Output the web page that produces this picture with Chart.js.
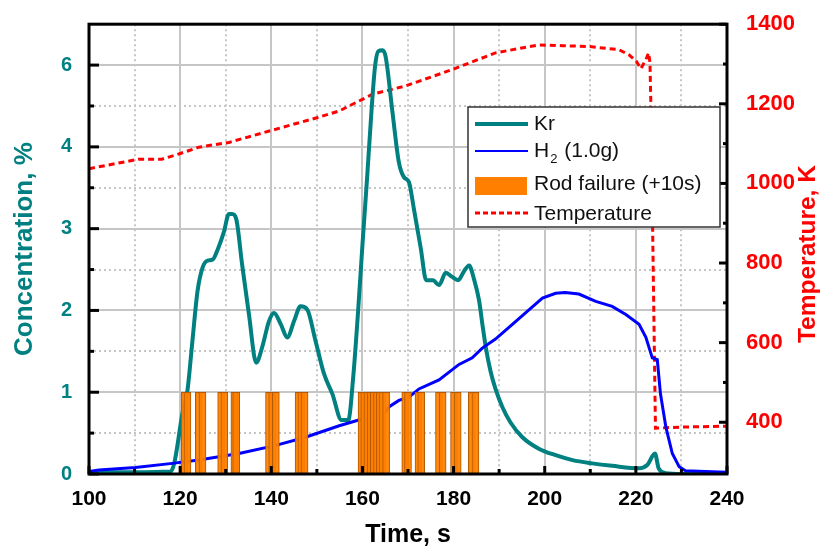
<!DOCTYPE html>
<html>
<head>
<meta charset="utf-8">
<title>Kr, H2 and temperature vs time</title>
<script src="https://cdn.jsdelivr.net/npm/chart.js@4.4.1/dist/chart.umd.min.js"></script>
<style>
  html, body { margin: 0; padding: 0; background: #fff; }
  #wrap { width: 827px; height: 550px; }
</style>
</head>
<body>
<div id="wrap"><canvas id="chart" width="827" height="550"></canvas></div>
<script>
(function () {
  "use strict";

  // --- data ---------------------------------------------------------------
  var krTime = [100, 110, 117.9, 118.7, 120.5, 121.6, 122.7, 123.8, 124.9, 126.0,
    127.1, 128.2, 129.6, 130.7, 131.4, 132.3, 133.6, 135.1, 136.7, 138.0,
    139.5, 140.6, 142.1, 143.5, 145.0, 146.4, 147.9, 149.7, 151.6, 153.4,
    155.4, 156.9, 158.0, 159.0, 160.0, 161.0, 162.0, 162.8, 163.5, 164.4,
    165.1, 166.6, 168.0, 169.1, 170.2, 171.3, 172.8, 174.0, 175.5, 176.8,
    178.3, 179.7, 181.0, 182.3, 183.4, 184.5, 185.6, 186.4, 187.1, 188.1,
    189.2, 190.7, 192.5, 195.1, 198.7, 202.4, 206.1, 210.4, 214.8, 220.7,
    222.5, 224.2, 225.0, 226.6, 230, 240];
  var krConc = [0.02, 0.02, 0.03, 0.13, 0.74, 1.02, 1.63, 2.23, 2.52, 2.61,
    2.62, 2.74, 2.96, 3.18, 3.18, 3.12, 2.56, 1.95, 1.36, 1.55,
    1.87, 1.97, 1.83, 1.67, 1.87, 2.05, 2.01, 1.63, 1.22, 0.98,
    0.66, 0.66, 1.2, 1.95, 2.8, 3.6, 4.45, 5.0, 5.17, 5.18,
    5.1, 4.42, 3.81, 3.63, 3.57, 3.24, 2.76, 2.37, 2.37, 2.31,
    2.46, 2.41, 2.37, 2.48, 2.55, 2.38, 2.12, 1.80, 1.54, 1.26,
    1.04, 0.82, 0.63, 0.45, 0.31, 0.23, 0.17, 0.13, 0.10, 0.07,
    0.11, 0.25, 0.07, 0.01, 0.0, 0.0];

  var h2Time = [100, 102.2, 110.2, 118.3, 124.1, 132.9, 141.0, 147.5, 154.9, 159.2,
    165.1, 165.8, 168.0, 170.2, 172.4, 176.8, 181.2, 184.1, 186.3, 189.2,
    192.9, 196.6, 199.5, 202.4, 204.5, 207.5, 211.2, 214.8, 217.8, 220.7,
    222.2, 223.6, 224.7, 225.4, 226.6, 228.0, 229.5, 230.9, 235.3, 240];
  var h2Conc = [0.03, 0.05, 0.08, 0.13, 0.17, 0.25, 0.35, 0.45, 0.59, 0.66,
    0.76, 0.82, 0.90, 0.94, 1.04, 1.15, 1.34, 1.42, 1.54, 1.65,
    1.83, 2.01, 2.15, 2.21, 2.22, 2.20, 2.11, 2.05, 1.95, 1.83,
    1.67, 1.42, 1.40, 0.98, 0.57, 0.25, 0.09, 0.04, 0.03, 0.02];

  var tempTime = [100, 111, 116, 119.7, 124.1, 130.7, 140, 150, 154.9, 162.2,
    169.5, 179.7, 189.2, 198.7, 203.9, 209.7, 216.3, 218.5, 220.1, 221.1,
    222.2, 222.8, 223.1, 223.3, 224.3, 230, 240];
  var tempK = [1037, 1061, 1061, 1074, 1091, 1103, 1133, 1165, 1182, 1224,
    1245, 1286, 1328, 1348, 1346, 1344, 1336, 1323, 1307, 1288,
    1311, 1328, 1303, 1195, 385, 388, 390];

  // rod failure events (time shifted +10 s), each drawn as a bar of height 1
  var rodTime = [121.0, 121.6, 124.1, 124.9, 129.0, 129.7, 131.9, 132.3,
    139.5, 140.2, 141.0, 146.0, 146.6, 147.3,
    159.8, 160.4, 161.1, 161.8, 162.5, 163.2, 163.8, 164.4, 165.2,
    169.4, 170.0, 172.3, 172.9, 176.8, 177.6, 180.1, 180.9, 184.0, 184.8];
  var rodHeight = rodTime.map(function () { return 1; });

  // axes
  var xTicks = [100, 120, 140, 160, 180, 200, 220, 240];
  var xMinor = [110, 130, 150, 170, 190, 210, 230];
  var yTicks = [0, 1, 2, 3, 4, 5];
  var yTickLabels = ["0", "1", "2", "3", "4", "6"];
  var yMinor = [0.5, 1.5, 2.5, 3.5, 4.5];
  var tTicks = [400, 600, 800, 1000, 1200, 1400];
  var tMinor = [500, 700, 900, 1100, 1300];

  var TEAL = "#008080";
  var BLUE = "#0000ff";
  var RED = "#ff0000";
  var ORANGE = "#ff8000";
  var FONT = "'Liberation Sans', Arial, sans-serif";

  function pts(xs, ys) {
    return xs.map(function (x, i) { return { x: x, y: ys[i] }; });
  }

  function fixTicks(list) {
    return function (axis) {
      axis.ticks = list.map(function (v) { return { value: v }; });
    };
  }

  function seg(ctx, x1, y1, x2, y2) {
    ctx.beginPath();
    ctx.moveTo(x1, y1);
    ctx.lineTo(x2, y2);
    ctx.stroke();
  }

  // grid behind the curves: solid on major, dotted on minor values
  var gridPlugin = {
    id: "grid",
    beforeDatasetsDraw: function (chart) {
      var ctx = chart.ctx, a = chart.chartArea, s = chart.scales;
      ctx.save();
      ctx.strokeStyle = "#c6c6c6";
      ctx.lineWidth = 2;
      xTicks.slice(1, -1).forEach(function (v) {
        var px = Math.round(s.x.getPixelForValue(v));
        seg(ctx, px, a.top, px, a.bottom);
      });
      yTicks.slice(1).forEach(function (v) {
        var py = Math.round(s.y.getPixelForValue(v));
        seg(ctx, a.left, py, a.right, py);
      });
      ctx.setLineDash([2, 3]);
      xMinor.forEach(function (v) {
        var px = Math.round(s.x.getPixelForValue(v));
        seg(ctx, px, a.top, px, a.bottom);
      });
      yMinor.forEach(function (v) {
        var py = Math.round(s.y.getPixelForValue(v));
        seg(ctx, a.left, py, a.right, py);
      });
      ctx.restore();
    }
  };

  // frame, inward tick marks, right-hand title and the legend box
  var framePlugin = {
    id: "frame",
    afterDatasetsDraw: function (chart) {
      var ctx = chart.ctx, a = chart.chartArea, s = chart.scales;
      ctx.save();
      ctx.strokeStyle = "#000";
      ctx.lineWidth = 3;
      ctx.strokeRect(a.left, a.top, a.right - a.left, a.bottom - a.top);

      xTicks.forEach(function (v) {
        var px = s.x.getPixelForValue(v);
        seg(ctx, px, a.bottom, px, a.bottom - 8);
      });
      xMinor.forEach(function (v) {
        var px = s.x.getPixelForValue(v);
        seg(ctx, px, a.bottom, px, a.bottom - 5);
      });
      yTicks.forEach(function (v) {
        var py = s.y.getPixelForValue(v);
        seg(ctx, a.left, py, a.left + 10, py);
      });
      yMinor.forEach(function (v) {
        var py = s.y.getPixelForValue(v);
        seg(ctx, a.left, py, a.left + 5, py);
      });
      tTicks.forEach(function (v) {
        var py = s.y1.getPixelForValue(v);
        seg(ctx, a.right, py, a.right - 8, py);
      });
      tMinor.forEach(function (v) {
        var py = s.y1.getPixelForValue(v);
        seg(ctx, a.right, py, a.right - 4, py);
      });

      // temperature axis title, read bottom to top like the left one
      ctx.translate(808, (a.top + a.bottom) / 2 + 5);
      ctx.rotate(-Math.PI / 2);
      ctx.font = "bold 24.5px " + FONT;
      ctx.fillStyle = RED;
      ctx.textAlign = "center";
      ctx.textBaseline = "middle";
      ctx.fillText("Temperature, K", 0, 0);
      ctx.restore();

      drawLegend(ctx);
    }
  };

  function drawLegend(ctx) {
    var bx = 468, by = 107, bw = 252, bh = 120;
    var sx = 475, sw = 53, tx = 534;
    ctx.save();
    ctx.fillStyle = "#fff";
    ctx.fillRect(bx, by, bw, bh);
    ctx.strokeStyle = "#333";
    ctx.lineWidth = 1.5;
    ctx.strokeRect(bx, by, bw, bh);

    ctx.font = "21px " + FONT;
    ctx.fillStyle = "#111";
    ctx.textBaseline = "middle";
    ctx.textAlign = "left";

    // Kr
    ctx.strokeStyle = TEAL;
    ctx.lineWidth = 4;
    seg(ctx, sx, 124, sx + sw, 124);
    ctx.fillText("Kr", tx, 124);

    // H2
    ctx.strokeStyle = BLUE;
    ctx.lineWidth = 2;
    seg(ctx, sx, 151, sx + sw, 151);
    ctx.fillText("H", tx, 151);
    var hw = ctx.measureText("H").width;
    ctx.font = "13px " + FONT;
    ctx.fillText("2", tx + hw + 1, 159);
    var sw2 = ctx.measureText("2").width;
    ctx.font = "21px " + FONT;
    ctx.fillText(" (1.0g)", tx + hw + sw2 + 2, 151);

    // rod failure
    ctx.fillStyle = ORANGE;
    ctx.fillRect(sx, 177, sw - 1, 18);
    ctx.fillStyle = "#111";
    ctx.fillText("Rod failure (+10s)", tx, 184);

    // temperature
    ctx.strokeStyle = RED;
    ctx.lineWidth = 3;
    ctx.setLineDash([5, 3]);
    seg(ctx, sx, 213, sx + sw, 213);
    ctx.setLineDash([]);
    ctx.fillText("Temperature", tx, 214);
    ctx.restore();
  }

  new Chart(document.getElementById("chart"), {
    type: "line",
    data: {
      datasets: [
        {
          type: "bar",
          label: "Rod failure (+10s)",
          data: pts(rodTime, rodHeight),
          backgroundColor: "rgba(255,128,0,0.92)",
          borderColor: "#b35a00",
          borderWidth: 1,
          barThickness: 7,
          grouped: false,
          yAxisID: "y",
          order: 0
        },
        {
          label: "Kr",
          data: pts(krTime, krConc),
          borderColor: TEAL,
          borderWidth: 4,
          pointRadius: 0,
          cubicInterpolationMode: "monotone",
          yAxisID: "y",
          order: 2
        },
        {
          label: "H2 (1.0g)",
          data: pts(h2Time, h2Conc),
          borderColor: BLUE,
          borderWidth: 3,
          pointRadius: 0,
          yAxisID: "y",
          order: 1
        },
        {
          label: "Temperature",
          data: pts(tempTime, tempK),
          borderColor: RED,
          borderWidth: 3,
          borderDash: [6, 4],
          pointRadius: 0,
          yAxisID: "y1",
          order: 3
        }
      ]
    },
    options: {
      responsive: false,
      animation: false,
      devicePixelRatio: 1,
      layout: { padding: { top: 22, left: 0, right: 0, bottom: 0 } },
      plugins: {
        legend: { display: false },
        tooltip: { enabled: false }
      },
      scales: {
        x: {
          type: "linear",
          position: "bottom",
          min: 100,
          max: 240,
          offset: false,
          afterBuildTicks: fixTicks(xTicks),
          afterFit: function (s) { s.height = 76; },
          grid: { display: false },
          border: { display: false },
          ticks: {
            autoSkip: false,
            maxRotation: 0,
            padding: 5,
            color: "#000",
            font: { family: FONT, size: 21, weight: "bold" }
          },
          title: {
            display: true,
            text: "Time, s",
            color: "#000",
            padding: { top: 0, bottom: 0 },
            font: { family: FONT, size: 25, weight: "bold" }
          }
        },
        y: {
          type: "linear",
          position: "left",
          min: 0,
          max: 5.5,
          afterBuildTicks: fixTicks(yTicks),
          afterFit: function (s) { s.width = 89; },
          grid: { display: false },
          border: { display: false },
          ticks: {
            autoSkip: false,
            padding: 9,
            color: TEAL,
            font: { family: FONT, size: 20, weight: "bold" },
            callback: function (v) { return yTickLabels[yTicks.indexOf(v)]; }
          },
          title: {
            display: true,
            text: "Concentration, %",
            color: TEAL,
            padding: { top: 9, bottom: 0 },
            font: { family: FONT, size: 26, weight: "bold" }
          }
        },
        y1: {
          type: "linear",
          position: "right",
          min: 270,
          max: 1400,
          afterBuildTicks: fixTicks(tTicks),
          afterFit: function (s) { s.width = 100; },
          grid: { display: false },
          border: { display: false },
          ticks: {
            autoSkip: false,
            padding: 11,
            color: RED,
            font: { family: FONT, size: 22, weight: "bold" },
            callback: function (v) { return String(v); }
          },
          title: { display: false }
        }
      }
    },
    plugins: [gridPlugin, framePlugin]
  });
})();
</script>
</body>
</html>
